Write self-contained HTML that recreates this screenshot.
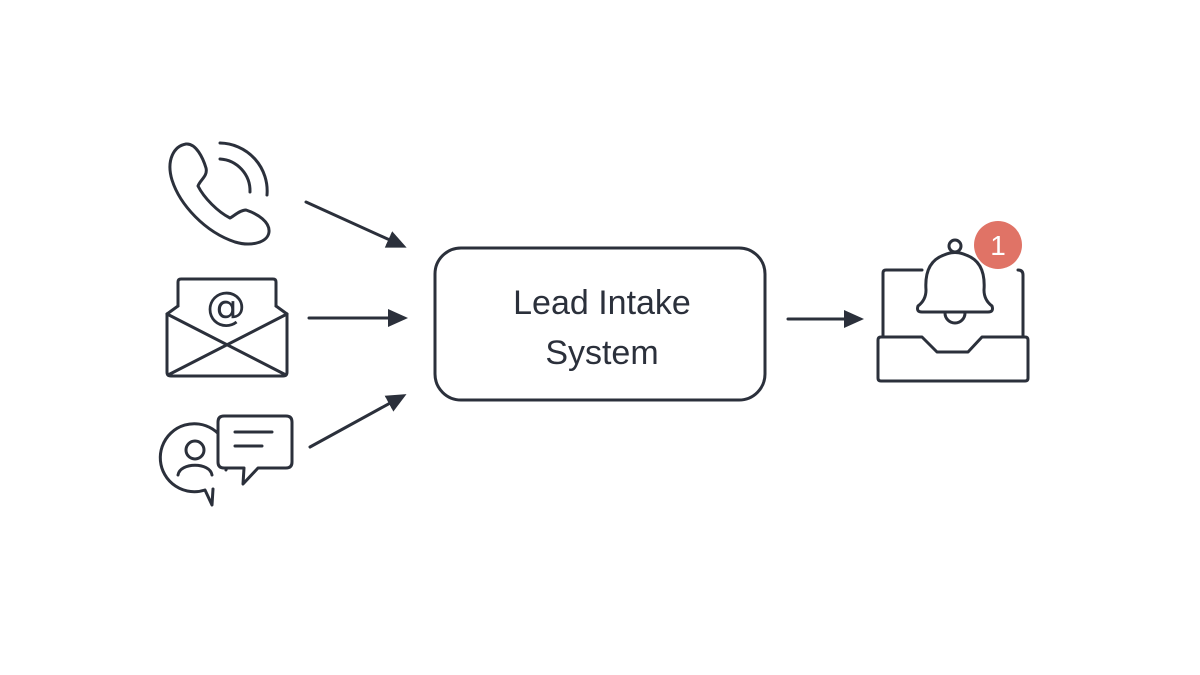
<!DOCTYPE html>
<html><head><style>html,body{margin:0;padding:0;background:#fff;}svg{display:block}</style></head>
<body>
<svg width="1200" height="675" viewBox="0 0 1200 675" xmlns="http://www.w3.org/2000/svg">
<defs><marker id="ah" markerWidth="20" markerHeight="20" refX="16" refY="9" orient="auto" markerUnits="userSpaceOnUse" viewBox="0 0 20 18"><path d="M0,0 L20,9 L0,18 z" fill="#2b303b"/></marker></defs>
<g fill="none" stroke="#2b303b" stroke-width="3" stroke-linecap="round" stroke-linejoin="round">
<path d="M186,144 C174,146 166,160 172,180 C180,205 205,232 235,242 C252,247 268,242 269,232 C270,222 258,214 246,210 C240,210 234,216 230,218 C218,212 204,198 198,186 C200,180 208,176 206,168 C203,158 196,143 186,144 Z"/>
<path d="M220,143 A48,48 0 0 1 267,195"/>
<path d="M220,159 A32,32 0 0 1 250,192"/>
<path d="M178,306 L178,282 Q178,279 181,279 L273,279 Q276,279 276,282 L276,306"/>
<path d="M167,314 L178,306 M287,314 L276,306"/>
<path d="M167,314 L167,372 Q167,376 171,376 L283,376 Q287,376 287,372 L287,314"/>
<path d="M167,314 L286,375 M287,314 L168,375"/>
<path d="M205,490 A34,34 0 1 1 226,470 M205,490 L212,505 L213,489"/>
<circle cx="195" cy="450" r="9"/>
<path d="M178,475 C180,462 210,462 212,475"/>
<path fill="#fff" d="M224,416 L286,416 Q292,416 292,422 L292,462 Q292,468 286,468 L258,468 L243,484 L244,468 L224,468 Q218,468 218,462 L218,422 Q218,416 224,416 Z"/>
<path d="M235,432 L272,432 M235,446 L262,446"/>
<line x1="306" y1="202" x2="403" y2="246" marker-end="url(#ah)"/>
<line x1="309" y1="318" x2="404" y2="318" marker-end="url(#ah)"/>
<line x1="310" y1="447" x2="403" y2="396" marker-end="url(#ah)"/>
<line x1="788" y1="319" x2="860" y2="319" marker-end="url(#ah)"/>
<rect x="435" y="248" width="330" height="152" rx="26"/>
<path d="M922,270 L886,270 Q883,270 883,273 L883,336"/>
<path d="M1018,270 Q1023,270 1023,275 L1023,336"/>
<path d="M881,337 L922,337 L937,352 L968,352 L982,337 L1025,337 Q1028,337 1028,340 L1028,378 Q1028,381 1025,381 L881,381 Q878,381 878,378 L878,340 Q878,337 881,337 Z"/>
<circle cx="955" cy="246" r="6"/>
<path d="M944,255 Q924,262 926,290 Q926,300 918,306 Q916,312 922,312 L988,312 Q994,312 992,306 Q984,300 984,290 Q986,262 966,255 Q955,250 944,255 Z"/>
<path d="M945,313 A10,10 0 0 0 965,313"/>
</g>
<text x="226" y="320" font-family="DejaVu Sans, sans-serif" font-size="40" fill="#2b303b" text-anchor="middle">@</text>
<circle cx="998" cy="245" r="24" fill="#e07366"/>
<text x="998" y="255" font-family="Liberation Sans, sans-serif" font-size="28" fill="#fff" text-anchor="middle">1</text>
<text x="602" y="314" font-family="Liberation Sans, sans-serif" font-size="34" fill="#2b303b" text-anchor="middle">Lead Intake</text>
<text x="602" y="364" font-family="Liberation Sans, sans-serif" font-size="34" fill="#2b303b" text-anchor="middle">System</text>
</svg>
</body></html>
